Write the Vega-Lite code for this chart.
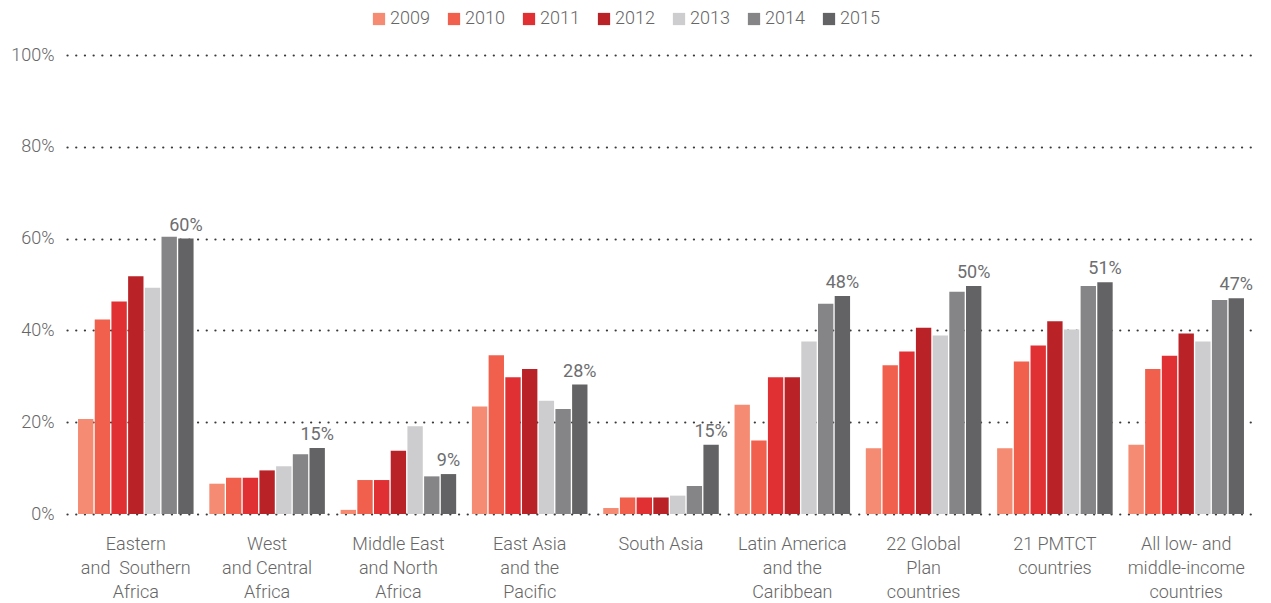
{
  "$schema": "https://vega.github.io/schema/vega-lite/v6.json",
  "width": 1188,
  "height": 459,
  "autosize": "none",
  "padding": {"left": 67, "top": 55, "right": 16, "bottom": 89},
  "background": "white",
  "config": {
    "view": {"stroke": null},
    "font": "Roboto",
    "text": {"font": "Roboto"}
  },
  "data": {
    "values": [
      {"region": "Eastern|and\u00a0 Southern|Africa", "year": "2009", "value": 20.7},
      {"region": "Eastern|and\u00a0 Southern|Africa", "year": "2010", "value": 42.4},
      {"region": "Eastern|and\u00a0 Southern|Africa", "year": "2011", "value": 46.3},
      {"region": "Eastern|and\u00a0 Southern|Africa", "year": "2012", "value": 51.8},
      {"region": "Eastern|and\u00a0 Southern|Africa", "year": "2013", "value": 49.3},
      {"region": "Eastern|and\u00a0 Southern|Africa", "year": "2014", "value": 60.4},
      {"region": "Eastern|and\u00a0 Southern|Africa", "year": "2015", "value": 60.0, "label": "60%"},
      {"region": "West|and Central|Africa", "year": "2009", "value": 6.6},
      {"region": "West|and Central|Africa", "year": "2010", "value": 7.9},
      {"region": "West|and Central|Africa", "year": "2011", "value": 7.9},
      {"region": "West|and Central|Africa", "year": "2012", "value": 9.5},
      {"region": "West|and Central|Africa", "year": "2013", "value": 10.4},
      {"region": "West|and Central|Africa", "year": "2014", "value": 13.0},
      {"region": "West|and Central|Africa", "year": "2015", "value": 14.4, "label": "15%"},
      {"region": "Middle East|and North|Africa", "year": "2009", "value": 0.9},
      {"region": "Middle East|and North|Africa", "year": "2010", "value": 7.4},
      {"region": "Middle East|and North|Africa", "year": "2011", "value": 7.4},
      {"region": "Middle East|and North|Africa", "year": "2012", "value": 13.8},
      {"region": "Middle East|and North|Africa", "year": "2013", "value": 19.1},
      {"region": "Middle East|and North|Africa", "year": "2014", "value": 8.2},
      {"region": "Middle East|and North|Africa", "year": "2015", "value": 8.7, "label": "9%"},
      {"region": "East Asia|and the|Pacific", "year": "2009", "value": 23.4},
      {"region": "East Asia|and the|Pacific", "year": "2010", "value": 34.6},
      {"region": "East Asia|and the|Pacific", "year": "2011", "value": 29.8},
      {"region": "East Asia|and the|Pacific", "year": "2012", "value": 31.6},
      {"region": "East Asia|and the|Pacific", "year": "2013", "value": 24.7},
      {"region": "East Asia|and the|Pacific", "year": "2014", "value": 22.9},
      {"region": "East Asia|and the|Pacific", "year": "2015", "value": 28.2, "label": "28%"},
      {"region": "South Asia", "year": "2009", "value": 1.3},
      {"region": "South Asia", "year": "2010", "value": 3.6},
      {"region": "South Asia", "year": "2011", "value": 3.6},
      {"region": "South Asia", "year": "2012", "value": 3.6},
      {"region": "South Asia", "year": "2013", "value": 4.0},
      {"region": "South Asia", "year": "2014", "value": 6.1},
      {"region": "South Asia", "year": "2015", "value": 15.1, "label": "15%"},
      {"region": "Latin America|and the|Caribbean", "year": "2009", "value": 23.8},
      {"region": "Latin America|and the|Caribbean", "year": "2010", "value": 16.0},
      {"region": "Latin America|and the|Caribbean", "year": "2011", "value": 29.8},
      {"region": "Latin America|and the|Caribbean", "year": "2012", "value": 29.8},
      {"region": "Latin America|and the|Caribbean", "year": "2013", "value": 37.6},
      {"region": "Latin America|and the|Caribbean", "year": "2014", "value": 45.8},
      {"region": "Latin America|and the|Caribbean", "year": "2015", "value": 47.5, "label": "48%"},
      {"region": "22 Global|Plan|countries", "year": "2009", "value": 14.3},
      {"region": "22 Global|Plan|countries", "year": "2010", "value": 32.4},
      {"region": "22 Global|Plan|countries", "year": "2011", "value": 35.4},
      {"region": "22 Global|Plan|countries", "year": "2012", "value": 40.6},
      {"region": "22 Global|Plan|countries", "year": "2013", "value": 38.9},
      {"region": "22 Global|Plan|countries", "year": "2014", "value": 48.4},
      {"region": "22 Global|Plan|countries", "year": "2015", "value": 49.7, "label": "50%"},
      {"region": "21 PMTCT|countries", "year": "2009", "value": 14.3},
      {"region": "21 PMTCT|countries", "year": "2010", "value": 33.2},
      {"region": "21 PMTCT|countries", "year": "2011", "value": 36.7},
      {"region": "21 PMTCT|countries", "year": "2012", "value": 42.0},
      {"region": "21 PMTCT|countries", "year": "2013", "value": 40.2},
      {"region": "21 PMTCT|countries", "year": "2014", "value": 49.7},
      {"region": "21 PMTCT|countries", "year": "2015", "value": 50.5, "label": "51%"},
      {"region": "All low- and|middle-income|countries", "year": "2009", "value": 15.1},
      {"region": "All low- and|middle-income|countries", "year": "2010", "value": 31.6},
      {"region": "All low- and|middle-income|countries", "year": "2011", "value": 34.5},
      {"region": "All low- and|middle-income|countries", "year": "2012", "value": 39.3},
      {"region": "All low- and|middle-income|countries", "year": "2013", "value": 37.6},
      {"region": "All low- and|middle-income|countries", "year": "2014", "value": 46.6},
      {"region": "All low- and|middle-income|countries", "year": "2015", "value": 47.0, "label": "47%"}
    ]
  },
  "encoding": {
    "x": {
      "field": "region",
      "type": "nominal",
      "sort": null,
      "scale": {"paddingInner": 0.12, "paddingOuter": 0.084},
      "axis": {
        "title": null,
        "domain": false,
        "ticks": false,
        "labelAngle": 0,
        "labelExpr": "split(datum.label, '|')",
        "labelFont": "Roboto",
        "labelFontWeight": 300,
        "labelFontSize": 18,
        "labelColor": "#666666",
        "labelLineHeight": 24,
        "labelPadding": 21,
        "labelBaseline": "top"
      }
    },
    "y": {
      "field": "value",
      "type": "quantitative",
      "scale": {"domain": [0, 100]},
      "axis": {
        "title": null,
        "domain": false,
        "ticks": false,
        "values": [0, 20, 40, 60, 80, 100],
        "labelExpr": "datum.value + '%'",
        "labelFont": "Roboto",
        "labelFontWeight": 300,
        "labelFontSize": 18,
        "labelColor": "#666666",
        "labelPadding": 13,
        "grid": true,
        "gridColor": "#3a3a3a",
        "gridWidth": 2.2,
        "gridDash": [0.1, 8.6],
        "gridCap": "round"
      }
    },
    "xOffset": {"field": "year", "type": "nominal", "scale": {"paddingInner": 0.08}}
  },
  "layer": [
    {
      "mark": {"type": "bar"},
      "encoding": {
        "color": {
          "field": "year",
          "type": "nominal",
          "scale": {
            "domain": ["2009", "2010", "2011", "2012", "2013", "2014", "2015"],
            "range": ["#f48b72", "#f0604c", "#e03034", "#b92327", "#cdcdcf", "#858588", "#636365"]
          },
          "legend": {
            "title": null,
            "orient": "none",
            "direction": "horizontal",
            "legendX": 303,
            "legendY": -45,
            "symbolType": "square",
            "symbolSize": 150,
            "symbolStrokeWidth": 0,
            "labelFont": "Roboto",
            "labelFontWeight": 300,
            "labelFontSize": 18,
            "labelColor": "#666666",
            "labelOffset": 2,
            "columnPadding": 15
          }
        }
      }
    },
    {
      "transform": [{"filter": "datum.label != null"}],
      "mark": {
        "type": "text",
        "baseline": "bottom",
        "dy": -4,
        "fontSize": 18,
        "font": "Roboto",
        "fontWeight": 400,
        "color": "#6d6e70"
      },
      "encoding": {"text": {"field": "label"}}
    }
  ]
}
